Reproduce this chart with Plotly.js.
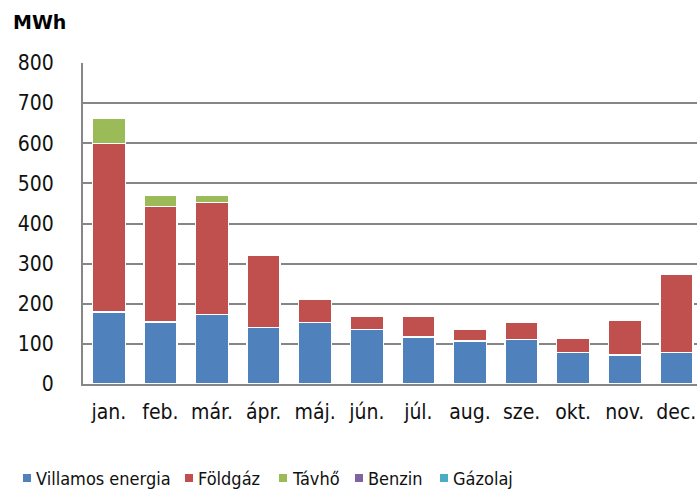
<!DOCTYPE html>
<html><head><meta charset="utf-8">
<script src="https://cdn.plot.ly/plotly-3.0.1.min.js"></script>
<style>html,body{margin:0;padding:0;background:#fff}</style>
</head><body><div id="c" style="width:697px;height:489px"></div>
<script>
const months = ["jan.","feb.","már.","ápr.","máj.","jún.","júl.","aug.","sze.","okt.","nov.","dec."];
const villamos = [179,154,173,141,153,136,117,107,111,78,72,78];
const foldgaz  = [421,289,279,181,59,32,51,29,42,37,88,196];
const tavho    = [63,27,18,0,0,0,0,0,0,0,0,0];
const benzin   = [0,0,0,0,0,0,0,0,0,0,0,0];
const gazolaj  = [0,0,0,0,0,0,0,0,0,0,0,0];
const seriesNames = ["Villamos energia","Földgáz","Távhő","Benzin","Gázolaj"];
const colors = ["#4F81BD","#C0504D","#9BBB59","#8064A2","#4BACC6"];
const vals = [villamos,foldgaz,tavho,benzin,gazolaj];
const font = "DejaVu Sans Condensed, DejaVu Sans, sans-serif";

const W = 697, H = 489, ML = 83, MR = 0, MT = 63, MB = 105;
const PW = W - ML - MR, PH = H - MT - MB;
const px2x = p => (p - ML) / PW;
const px2y = p => (H - MB - p) / PH;

const traces = vals.map((v,i)=>({
  type:"bar", x:months, y:v, name:seriesNames[i],
  marker:{color:colors[i], line:{color:"#ffffff", width:(i<3?1.5:0)}},
  hoverinfo:"x+y+name", showlegend:false
}));

// legend drawn as shapes + annotations
const legendPx = [23,185,279,355,440];
const legY = 478;
const shapes = [], annotations = [];
seriesNames.forEach((n,i)=>{
  shapes.push({type:"rect", xref:"paper", yref:"paper",
    x0:px2x(legendPx[i]), x1:px2x(legendPx[i]+8), y0:px2y(legY+4), y1:px2y(legY-4),
    fillcolor:colors[i], line:{width:0}});
  annotations.push({text:n, xref:"paper", yref:"paper", x:px2x(legendPx[i]+11), y:px2y(legY),
    xanchor:"left", yanchor:"middle", showarrow:false, font:{family:font, size:18, color:"#111"}});
});
annotations.push({text:"<b>MWh</b>", xref:"paper", yref:"paper", x:px2x(11), y:px2y(22), xanchor:"left", yanchor:"middle",
  showarrow:false, font:{family:"DejaVu Sans, sans-serif", size:19, color:"#000"}});

const layout = {
  width:W, height:H,
  margin:{l:ML, r:MR, t:MT, b:MB, autoexpand:false},
  barmode:"stack", bargap:0.36,
  paper_bgcolor:"#fff", plot_bgcolor:"#fff",
  font:{family:font, size:21, color:"#111"},
  showlegend:false,
  xaxis:{type:"category", range:[-0.5,11.4], showline:true, linecolor:"#868686", linewidth:2,
         ticks:"", ticklabelstandoff:8, tickfont:{size:21}, showgrid:false, fixedrange:true},
  yaxis:{range:[0,800], dtick:100, showgrid:true, gridcolor:"#868686", gridwidth:2,
         showline:true, linecolor:"#868686", linewidth:2, ticks:"",
         ticklabelstandoff:23, zeroline:false, tickfont:{size:21}, fixedrange:true},
  shapes:shapes, annotations:annotations
};
Plotly.newPlot("c", traces, layout, {displayModeBar:false, staticPlot:true});
</script></body></html>
